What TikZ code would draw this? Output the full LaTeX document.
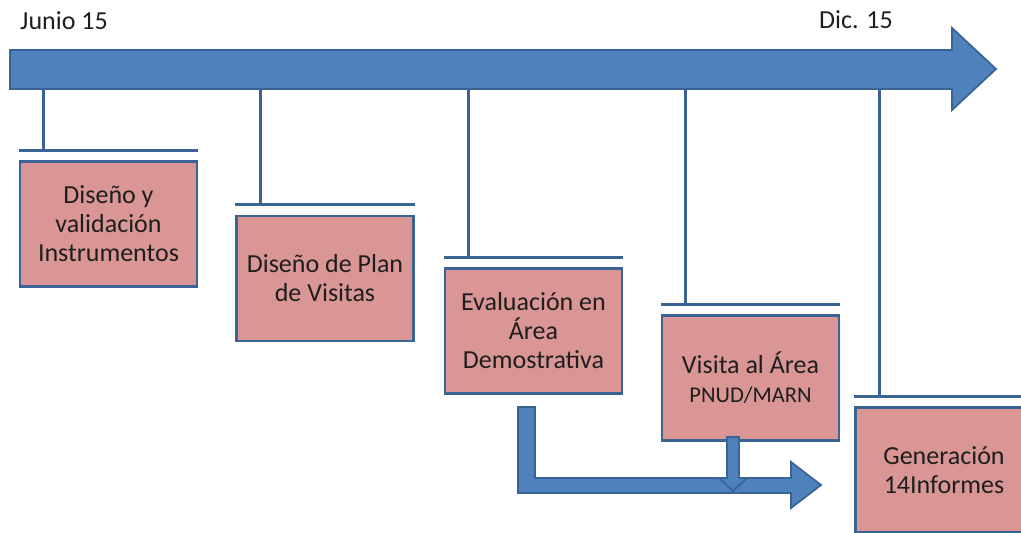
\documentclass[tikz,border=0pt]{standalone}
\usepackage{fontspec}
\setmainfont{Carlito}
\usetikzlibrary{calc,positioning}
\definecolor{arrowblue}{HTML}{4F81BD}
\definecolor{edgeblue}{HTML}{3B6496}
\definecolor{taskpink}{HTML}{D99694}
\definecolor{inkgray}{HTML}{1E1E1E}
\begin{document}
\begin{tikzpicture}[x=1pt,y=-1pt,
        task/.style={rectangle,draw=edgeblue,fill=taskpink,line width=2.6pt,minimum width=177pt,minimum height=125pt,
            align=center,text=inkgray,font=\fontsize{26}{29}\selectfont},
        date/.style={text=inkgray,font=\fontsize{26}{29}\selectfont},
        link/.style={draw=edgeblue,line width=2.6pt},
        bigarrow/.style={fill=arrowblue,draw=edgeblue,line width=1.8pt,line join=miter}]
    \useasboundingbox (0,0) rectangle (1021,533);
    \clip (0,0) rectangle (1021,533);
    % time line
    \node[date] (start) at (64,21) {Junio 15};
    \node[date] (end) at (856,20) {Dic. 15};
    \draw[bigarrow] (10,50) -- (952,50) -- (952,28) -- (996,69) -- (952,110) -- (952,89) -- (10,89) -- cycle;
    \coordinate (line) at (10,88);
    % tasks
    \node[task] (b1) at (108.5,224) {Diseño y\\validación\\Instrumentos};
    \node[task] (b2) at (325,278.5) {Diseño de Plan\\de Visitas};
    \node[task] (b3) at (533.5,331) {Evaluación en\\Área\\Demostrativa};
    \node[task] (b4) at (750.5,378) {Visita al Área\\{\fontsize{22.5}{28}\selectfont PNUD/MARN}};
    \node[task] (b5) at (944,470) {Generación\\14Informes};
    \foreach \b in {b1,b2,b3,b4,b5}{
        \draw[link] ([yshift=10pt]\b.north west) -- ([yshift=10pt]\b.north east);
        \coordinate (\b t) at ([xshift=25pt,yshift=10pt]\b.north west);
        \draw[link] (\b t) -- (\b t |- line);
    }
    % results
    \draw[bigarrow] (518,407) -- (535,407) -- (535,478) -- (791,478) -- (791,462) -- (821,485) -- (791,508) -- (791,493) -- (518,493) -- cycle;
    \draw[bigarrow] (727,437) -- (739,437) -- (739,478) -- (747,478) -- (733,491) -- (719,478) -- (727,478) -- cycle;
\end{tikzpicture}
\end{document}
